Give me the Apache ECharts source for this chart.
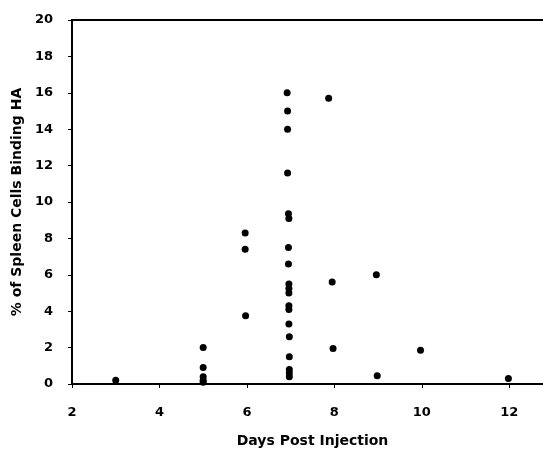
<!DOCTYPE html>
<html><head><meta charset="utf-8">
<script src="https://cdn.jsdelivr.net/npm/echarts@6/dist/echarts.min.js"></script>
<style>html,body{margin:0;padding:0;background:#fff}#c{width:543px;height:450px}</style>
</head><body><div id="c"></div>
<script>
var days = [3.0, 5.0, 5.0, 5.0, 5.0, 5.0, 5.96, 5.96, 5.97,
  6.92, 6.93, 6.93, 6.93, 6.95, 6.96, 6.95, 6.95, 6.96, 6.96, 6.96, 6.96, 6.96, 6.96, 6.97, 6.97, 6.97, 6.97, 6.97,
  7.87, 7.95, 7.97, 8.96, 8.98, 9.97, 11.98];
var percent = [0.2, 2.0, 0.9, 0.4, 0.2, 0.1, 8.3, 7.4, 3.75,
  16.0, 15.0, 14.0, 11.6, 9.35, 9.1, 7.5, 6.6, 5.5, 5.25, 5.0, 4.3, 4.1, 3.3, 2.6, 1.5, 0.8, 0.6, 0.4,
  15.7, 5.6, 1.95, 6.0, 0.45, 1.85, 0.3];
var xTicks = [2, 4, 6, 8, 10, 12];
var yTicks = [0, 2, 4, 6, 8, 10, 12, 14, 16, 18, 20];

var pts = days.map(function (d, i) { return [d, percent[i]]; });
var font = '"DejaVu Sans", sans-serif';
var chart = echarts.init(document.getElementById('c'));
chart.setOption({
  animation: false,
  grid: { left: 72, top: 20, height: 364, width: 481, outerBoundsMode: 'none', containLabel: false,
    show: true, borderColor: '#000', borderWidth: 2, backgroundColor: 'transparent' },
  xAxis: {
    type: 'value', min: 2, max: 13, interval: 2,
    name: 'Days Post Injection', nameLocation: 'middle', nameGap: 50,
    nameTextStyle: { fontFamily: font, fontWeight: 'bold', fontSize: 14, color: '#000' },
    axisLine: { lineStyle: { color: '#000', width: 2 } },
    axisTick: { show: true, length: 4, lineStyle: { color: '#000', width: 1 } },
    axisLabel: { margin: 22, fontFamily: font, fontWeight: 'bold', fontSize: 13, color: '#000',
      formatter: function (v) { return xTicks.indexOf(v) >= 0 ? String(v) : ''; } },
    splitLine: { show: false }
  },
  yAxis: {
    type: 'value', min: 0, max: 20, interval: 2,
    name: '% of Spleen Cells Binding HA', nameLocation: 'middle', nameGap: 42,
    nameTextStyle: { fontFamily: font, fontWeight: 'bold', fontSize: 14, color: '#000' },
    axisLine: { lineStyle: { color: '#000', width: 2 } },
    axisTick: { show: true, length: 4, lineStyle: { color: '#000', width: 1 } },
    axisLabel: { margin: 19, fontFamily: font, fontWeight: 'bold', fontSize: 13, color: '#000',
      formatter: function (v) { return yTicks.indexOf(v) >= 0 ? String(v) : ''; } },
    splitLine: { show: false }
  },
  series: [{
    type: 'scatter', data: pts, symbol: 'circle', symbolSize: 7,
    itemStyle: { color: '#000', opacity: 1 }
  }]
});
</script></body></html>
